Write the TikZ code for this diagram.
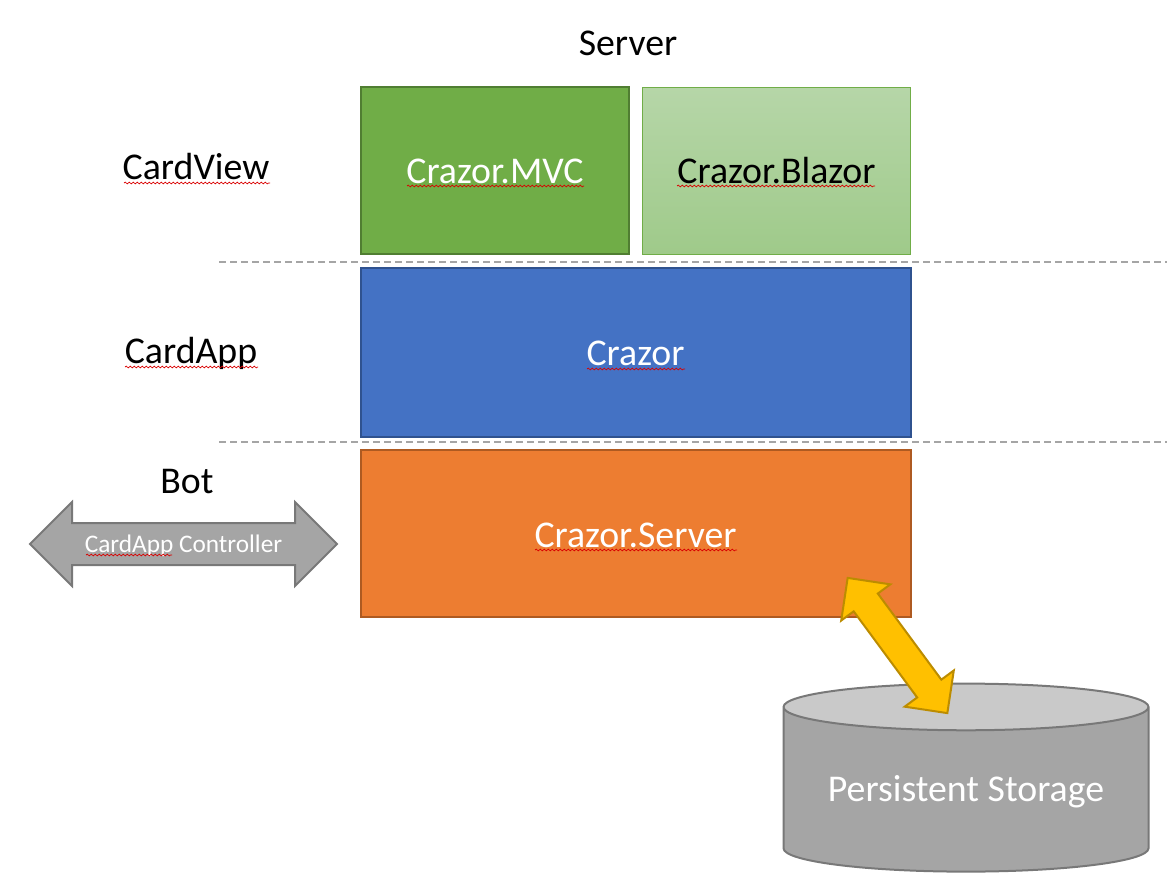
\documentclass[tikz,border=0pt]{standalone}
\usepackage{fontspec}
\setmainfont{Carlito}
\usetikzlibrary{shapes.arrows,shapes.geometric,decorations.pathmorphing}

\definecolor{mvcgreen}{HTML}{70AD47}
\definecolor{mvcedge}{HTML}{507E32}
\definecolor{blazortop}{HTML}{B6D6A8}
\definecolor{blazorbot}{HTML}{9FCA8A}
\definecolor{appblue}{HTML}{4472C4}
\definecolor{appedge}{HTML}{2F528F}
\definecolor{srvorange}{HTML}{ED7D31}
\definecolor{srvedge}{HTML}{AE5A21}
\definecolor{stgray}{HTML}{A5A5A5}
\definecolor{stedge}{HTML}{787878}
\definecolor{sttop}{HTML}{C9C9C9}
\definecolor{linkgold}{HTML}{FFC000}
\definecolor{linkedge}{HTML}{BC8C00}

\tikzset{
    layerbox/.style={draw, line width=2pt, text=white, text height=26.5pt, text depth=0pt, font=\fontsize{37.8}{44}\selectfont},
    sidelabel/.style={font=\fontsize{37.8}{44}\selectfont},
    tierline/.style={draw=stgray, line width=1.5pt, dash pattern=on 7pt off 4pt},
    squiggle/.style={draw=red!85!black, line width=0.7pt, decorate, decoration={snake, amplitude=0.9pt, segment length=4pt}}
}

\begin{document}
\begin{tikzpicture}[x=1pt, y=-1pt]
    \useasboundingbox (0,0) rectangle (1167,881);

    % Side labels
    \node[sidelabel] (server) at (628,43) {Server};
    \node[sidelabel] (cardview) at (196,167) {CardView};
    \node[sidelabel] (cardapp) at (191,353) {CardApp};
    \node[sidelabel] (bot) at (187,482) {Bot};

    % CardView tier
    \node[layerbox, fill=mvcgreen, draw=mvcedge, minimum width=268pt, minimum height=167pt] (mvc) at (495,170.5) {Crazor.MVC};
    \node[layerbox, top color=blazortop, bottom color=blazorbot, draw=mvcgreen, line width=1pt, text=black, minimum width=268pt, minimum height=167pt] (blazor) at (776.5,170.5) {Crazor.Blazor};

    % CardApp tier
    \node[layerbox, fill=appblue, draw=appedge, minimum width=550pt, minimum height=169pt] (crazor) at (635.5,352) {Crazor};

    % Bot tier
    \node[layerbox, fill=srvorange, draw=srvedge, minimum width=550pt, minimum height=167pt, text height=27.5pt] (crazorserver) at (635.5,533.5) {Crazor.Server};

    % Tier separators
    \coordinate (sepa) at (219,262);
    \coordinate (sepaend) at (1167,262);
    \coordinate (sepb) at (219,442);
    \coordinate (sepbend) at (1167,442);
    \draw[tierline] (sepa) -- (sepaend);
    \draw[tierline] (sepb) -- (sepbend);

    % Controller arrow
    \node[shape=double arrow, draw=stedge, fill=stgray, line width=2pt, text=white, font=\fontsize{25.3}{30}\selectfont,
        double arrow head extend=21pt, minimum height=307pt, text height=18pt, text depth=2pt, inner ysep=10pt, inner xsep=0pt] (controller) at (183.5,544) {CardApp Controller};

    % Storage
    \node[shape=cylinder, shape border rotate=90, draw=stedge, line width=2pt, cylinder uses custom fill,
        cylinder body fill=stgray, cylinder end fill=sttop, shape aspect=0.165, text=white,
        minimum width=365pt, minimum height=188pt, font=\fontsize{37.8}{44}\selectfont] (storage) at (966,792) {Persistent Storage};

    % Link to storage
    \node[shape=double arrow, draw=linkedge, fill=linkgold, line width=2pt, rotate=-53.6,
        double arrow head extend=15.5pt, minimum height=168pt, minimum width=59pt, text width=1pt, text height=14pt, text depth=14pt, inner sep=0pt] (link) at (897.5,645.5) {};

    % Spelling marks
    \foreach \xa/\xb/\yy in {124/270/183, 407/584/186, 677/875/186, 587/685/369, 535/737/550, 125/258/367, 86/172/555}
        \draw[squiggle] (\xa,\yy) -- (\xb,\yy);
\end{tikzpicture}
\end{document}
